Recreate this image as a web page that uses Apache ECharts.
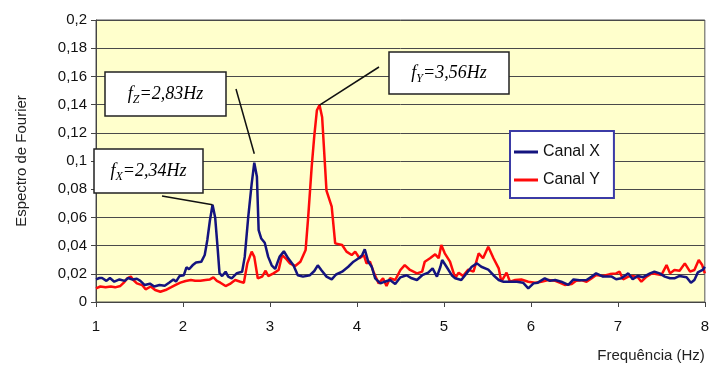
<!DOCTYPE html>
<html>
<head>
<meta charset="utf-8">
<script src="https://cdn.jsdelivr.net/npm/echarts@6/dist/echarts.min.js"></script>
<style>
  html, body { margin: 0; padding: 0; background: #fff; }
  #main { width: 712px; height: 369px; }
</style>
</head>
<body>
<div id="main"></div>
<script>
// Canal X (blue)
var freqX = [1.00,1.04,1.07,1.12,1.16,1.21,1.27,1.33,1.37,1.42,1.47,1.51,1.56,1.62,1.67,1.73,1.79,1.84,1.89,1.92,
  1.96,2.01,2.04,2.07,2.11,2.15,2.21,2.25,2.28,2.31,2.34,2.37,2.40,2.42,2.45,2.49,2.52,2.56,2.62,2.68,
  2.71,2.75,2.79,2.82,2.85,2.87,2.90,2.94,2.98,3.02,3.06,3.11,3.16,3.21,3.27,3.32,3.38,3.46,3.51,3.55,
  3.59,3.65,3.71,3.76,3.83,3.90,3.96,4.02,4.06,4.09,4.13,4.17,4.21,4.27,4.32,4.38,4.44,4.50,4.57,4.63,
  4.69,4.75,4.82,4.87,4.92,4.96,4.98,5.03,5.09,5.13,5.20,5.26,5.32,5.38,5.43,5.51,5.57,5.63,5.68,5.76,
  5.84,5.91,5.97,6.03,6.08,6.16,6.22,6.28,6.35,6.43,6.49,6.56,6.64,6.70,6.75,6.83,6.93,6.98,7.04,7.12,
  7.17,7.23,7.29,7.37,7.42,7.48,7.54,7.60,7.65,7.71,7.79,7.84,7.88,7.92,7.98,8.00];
var canalX = [0.016,0.017,0.017,0.015,0.017,0.0144,0.016,0.015,0.017,0.016,0.0165,0.015,0.012,0.013,0.011,0.012,0.0115,0.0137,0.016,0.0145,
  0.0184,0.019,0.0246,0.0232,0.026,0.028,0.0285,0.0333,0.044,0.058,0.069,0.060,0.037,0.0205,0.0184,0.0215,0.018,0.0168,0.0205,0.0215,
  0.032,0.060,0.084,0.0988,0.0889,0.051,0.045,0.042,0.032,0.026,0.0234,0.032,0.036,0.031,0.026,0.019,0.018,0.019,0.022,0.026,
  0.0227,0.018,0.016,0.0195,0.0215,0.025,0.0286,0.031,0.0333,0.0374,0.0286,0.025,0.0168,0.0132,0.0144,0.0156,0.0128,0.0175,0.019,0.0168,
  0.0156,0.019,0.0208,0.0239,0.018,0.025,0.0298,0.025,0.019,0.0168,0.0156,0.0203,0.025,0.0274,0.025,0.023,0.019,0.0156,0.0144,0.0144,
  0.0144,0.0137,0.0097,0.0132,0.0137,0.0168,0.015,0.0156,0.0144,0.0121,0.016,0.0155,0.0156,0.018,0.0203,0.018,0.018,0.0161,0.0168,0.0203,
  0.0161,0.0185,0.0176,0.0203,0.0215,0.0203,0.018,0.0168,0.0168,0.0185,0.0176,0.0137,0.0156,0.021,0.023,0.025];

// Canal Y (red)
var freqY = [1.00,1.05,1.11,1.17,1.22,1.28,1.32,1.36,1.40,1.43,1.47,1.53,1.57,1.63,1.68,1.74,1.80,1.86,1.91,1.97,
  2.03,2.09,2.14,2.20,2.26,2.31,2.35,2.39,2.43,2.49,2.54,2.60,2.66,2.70,2.74,2.79,2.82,2.86,2.91,2.95,
  2.98,3.04,3.10,3.14,3.18,3.23,3.29,3.35,3.41,3.44,3.48,3.51,3.54,3.57,3.60,3.65,3.71,3.75,3.83,3.88,
  3.94,3.98,4.03,4.08,4.11,4.15,4.19,4.25,4.30,4.34,4.38,4.44,4.50,4.55,4.61,4.69,4.75,4.78,4.84,4.90,
  4.94,4.97,5.01,5.07,5.13,5.17,5.22,5.28,5.34,5.40,5.45,5.51,5.57,5.63,5.66,5.72,5.76,5.82,5.89,5.97,
  6.05,6.12,6.20,6.28,6.33,6.39,6.47,6.52,6.58,6.64,6.70,6.75,6.83,6.91,6.98,7.02,7.06,7.12,7.17,7.23,
  7.27,7.33,7.39,7.44,7.50,7.56,7.60,7.65,7.71,7.77,7.83,7.88,7.93,7.97,8.00];
var canalY = [0.0097,0.011,0.0104,0.011,0.0104,0.0114,0.0137,0.0168,0.018,0.0156,0.0132,0.012,0.009,0.011,0.0085,0.0073,0.0085,0.0104,0.012,0.0137,
  0.0149,0.0156,0.015,0.015,0.0156,0.016,0.0175,0.015,0.0137,0.0113,0.0128,0.0156,0.0144,0.0137,0.0274,0.0357,0.032,0.0168,0.018,0.0222,
  0.0184,0.0203,0.0227,0.0333,0.031,0.0274,0.0255,0.0286,0.0369,0.0605,0.096,0.118,0.136,0.1397,0.131,0.079,0.0676,0.0416,0.0404,0.0357,
  0.0333,0.0357,0.031,0.0333,0.0274,0.0286,0.0215,0.0132,0.0168,0.0113,0.0168,0.0156,0.0227,0.0262,0.0227,0.0203,0.0215,0.0286,0.031,0.0338,
  0.031,0.0404,0.0345,0.0286,0.017,0.0208,0.0184,0.023,0.0215,0.0345,0.031,0.0392,0.031,0.0239,0.0144,0.0208,0.0144,0.0156,0.016,0.0144,
  0.0137,0.0144,0.0156,0.015,0.0137,0.0121,0.0128,0.015,0.0155,0.0144,0.0168,0.0191,0.0184,0.0198,0.0203,0.0215,0.0161,0.018,0.0184,0.0176,
  0.0144,0.018,0.0203,0.0198,0.0191,0.0262,0.0203,0.0227,0.0222,0.0274,0.0215,0.0227,0.0298,0.0262,0.0203];

var seriesNames = ['Canal X', 'Canal Y'];

// annotated peaks: label subscript, value text, series, peak frequency
var peakSub = ['X', 'Z', 'Y'];
var peakText = ['=2,34Hz', '=2,83Hz', '=3,56Hz'];
var peakSeries = [0, 0, 1];
var peakFreq = [2.34, 2.82, 3.57];

function pairs(xs, ys) {
    return xs.map(function (x, i) { return [x, ys[i]]; });
}

var chart = echarts.init(document.getElementById('main'));

var option = {
    backgroundColor: '#ffffff',
    animation: false,
    grid: {
        left: 96, right: 6, top: 20, bottom: 67,
        show: true,
        backgroundColor: '#FFFFCC',
        borderColor: '#555555',
        borderWidth: 1
    },
    legend: {
        orient: 'vertical',
        left: 510, top: 131,
        padding: [13, 14, 10, 4],
        itemGap: 12,
        itemWidth: 24,
        itemHeight: 3,
        icon: 'rect',
        backgroundColor: '#ffffff',
        borderColor: '#3b3ba6',
        borderWidth: 2,
        textStyle: { fontFamily: 'Liberation Sans', fontSize: 16, lineHeight: 16, color: '#111' },
        data: seriesNames
    },
    xAxis: {
        type: 'value',
        min: 1, max: 8, interval: 1,
        name: 'Frequência (Hz)',
        nameLocation: 'end',
        nameGap: 0,
        nameTextStyle: {
            fontFamily: 'Liberation Sans', fontSize: 15, color: '#222',
            align: 'right', verticalAlign: 'top', padding: [46, 0, 0, 0]
        },
        axisLine: { lineStyle: { color: '#444', width: 1 } },
        axisTick: { show: true, length: 5, lineStyle: { color: '#444' } },
        axisLabel: { fontFamily: 'Liberation Sans', fontSize: 15, color: '#111', margin: 17 },
        splitLine: { show: false }
    },
    yAxis: {
        type: 'value',
        min: 0, max: 0.2, interval: 0.02,
        name: 'Espectro de Fourier',
        nameLocation: 'middle',
        nameRotate: 90,
        nameGap: 67,
        nameTextStyle: { fontFamily: 'Liberation Sans', fontSize: 15, color: '#222' },
        axisLine: { show: true, lineStyle: { color: '#444', width: 1 } },
        axisTick: { show: true, length: 5, lineStyle: { color: '#444' } },
        axisLabel: {
            fontFamily: 'Liberation Sans', fontSize: 15, color: '#111', margin: 9,
            formatter: function (v) { return String(Math.round(v * 100) / 100).replace('.', ','); }
        },
        splitLine: { show: true, lineStyle: { color: '#4a4a4a', width: 1 } }
    },
    series: [
        {
            name: seriesNames[0], type: 'line', data: pairs(freqX, canalX),
            showSymbol: false, symbol: 'none',
            lineStyle: { color: '#14147f', width: 2.5 }, itemStyle: { color: '#14147f' }
        },
        {
            name: seriesNames[1], type: 'line', data: pairs(freqY, canalY),
            showSymbol: false, symbol: 'none', z: 1,
            lineStyle: { color: '#ff0a0a', width: 2.5 }, itemStyle: { color: '#ff0a0a' }
        }
    ]
};
chart.setOption(option);

// annotation boxes (pixel layout) and leader lines that end on the data peaks
var boxes = [
    { x: 94, y: 149, w: 109, h: 44, lx: 162, ly: 196, dy: 0 },
    { x: 105, y: 72, w: 121, h: 44, lx: 236, ly: 89, dy: -9 },
    { x: 389, y: 52, w: 120, h: 42, lx: 379, ly: 67, dy: 0 }
];

function peakValue(s, f) {
    var xs = s === 0 ? freqX : freqY, ys = s === 0 ? canalX : canalY;
    var best = 0;
    for (var i = 0; i < xs.length; i++) {
        if (Math.abs(xs[i] - f) < Math.abs(xs[best] - f)) best = i;
    }
    return [xs[best], ys[best]];
}

var graphics = [];
boxes.forEach(function (b, i) {
    var p = chart.convertToPixel({ seriesIndex: peakSeries[i] }, peakValue(peakSeries[i], peakFreq[i]));
    graphics.push({
        type: 'line', z: 100,
        shape: { x1: b.lx, y1: b.ly, x2: p[0], y2: p[1] + b.dy },
        style: { stroke: '#111', lineWidth: 1.5 }
    });
    graphics.push({
        type: 'rect', z: 100,
        shape: { x: b.x, y: b.y, width: b.w, height: b.h },
        style: { fill: '#ffffff', stroke: '#222', lineWidth: 1.5 }
    });
    graphics.push({
        type: 'text', z: 101,
        x: b.x + b.w / 2, y: b.y + b.h / 2,
        style: {
            text: '{f|f}{s|' + peakSub[i] + '}{t|' + peakText[i] + '}',
            align: 'center', verticalAlign: 'middle',
            rich: {
                f: { fontFamily: 'Liberation Serif', fontStyle: 'italic', fontSize: 18, color: '#111', lineHeight: 24, verticalAlign: 'middle' },
                s: { fontFamily: 'Liberation Serif', fontStyle: 'italic', fontSize: 12, color: '#111', lineHeight: 24, verticalAlign: 'bottom', padding: [8, 0, 0, 0] },
                t: { fontFamily: 'Liberation Serif', fontStyle: 'italic', fontSize: 18, color: '#111', lineHeight: 24, verticalAlign: 'middle' }
            }
        }
    });
});
chart.setOption({ graphic: graphics });
</script>
</body>
</html>
